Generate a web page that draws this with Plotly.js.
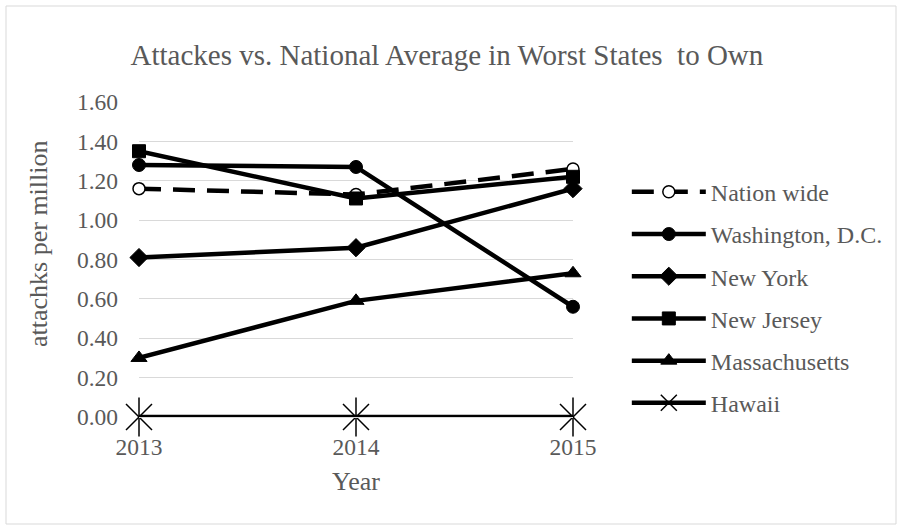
<!DOCTYPE html>
<html>
<head>
<meta charset="utf-8">
<script src="https://cdn.plot.ly/plotly-3.0.1.min.js"></script>
<style>
html,body{margin:0;padding:0;background:#fff;}
#chart{width:901px;height:529px;}
</style>
</head>
<body>
<div id="chart"></div>
<script>
const years = [2013, 2014, 2015];
const seriesNames = ["Nation wide", "Washington, D.C.", "New York", "New Jersey", "Massachusetts", "Hawaii"];
const nationWide = [1.16, 1.13, 1.26];
const washingtonDC = [1.28, 1.27, 0.56];
const newYork = [0.81, 0.86, 1.16];
const newJersey = [1.35, 1.11, 1.22];
const massachusetts = [0.30, 0.59, 0.73];
const hawaii = [0, 0, 0];
const yTicks = [0, 0.2, 0.4, 0.6, 0.8, 1.0, 1.2, 1.4, 1.6];

const serif = "Liberation Serif, Times New Roman, serif";
const grey = "#595959";
const LW = 4.5;

function tr(name, y, symbol, size, extra) {
  return Object.assign({
    x: years, y: y, name: name, type: "scatter", mode: "lines+markers",
    line: {color: "#000", width: LW},
    marker: {symbol: symbol, size: size, color: "#000", line: {color: "#000", width: 1}},
    cliponaxis: false, legendgroup: name
  }, extra || {});
}

const data = [
  tr(seriesNames[0], nationWide, "circle", 12, {
    line: {color: "#000", width: LW, dash: "22px,12px"},
    marker: {symbol: "circle", size: 12, color: "#fff", line: {color: "#000", width: 1.5}}
  }),
  tr(seriesNames[1], washingtonDC, "circle", 13),
  tr(seriesNames[2], newYork, "diamond", 14),
  tr(seriesNames[3], newJersey, "square", 13),
  tr(seriesNames[4], massachusetts, "triangle-up", 14),
  tr(seriesNames[5], hawaii, "x-thin-open", 26, {
    marker: {symbol: "x-thin-open", size: 26, color: "#000", line: {color: "#000", width: 1.5}}
  }),
  {
    x: years, y: hawaii, type: "scatter", mode: "markers", showlegend: false,
    hoverinfo: "skip", cliponaxis: false, legendgroup: seriesNames[5],
    marker: {symbol: "line-ns-open", size: 28, color: "#000", line: {color: "#000", width: 1.5}}
  }
];

const layout = {
  width: 901, height: 529,
  margin: {l: 139, r: 328, t: 102, b: 112},
  paper_bgcolor: "#fff", plot_bgcolor: "#fff",
  font: {family: serif, color: grey, size: 23.5},
  title: {
    text: "Attackes vs. National Average in Worst States  to Own",
    font: {family: serif, size: 29, color: grey},
    x: 0.496, xanchor: "center", y: 0.896, yanchor: "middle"
  },
  xaxis: {
    range: [2013, 2015], tickvals: years, ticktext: years.map(String),
    showgrid: false, zeroline: false, showline: true, linecolor: "#d9d9d9", linewidth: 1,
    ticks: "", ticklabelstandoff: 9,
    tickfont: {family: serif, size: 23.5, color: grey},
    title: {text: "Year", font: {family: serif, size: 26, color: grey}, standoff: 12}
  },
  yaxis: {
    range: [0, 1.6], tickvals: yTicks, tickformat: ".2f",
    showgrid: true, gridcolor: "#d9d9d9", gridwidth: 1, zeroline: false, showline: false,
    ticks: "", ticklabelstandoff: 20,
    tickfont: {family: serif, size: 23.5, color: grey}
  },
  annotations: [{
    text: "attachks per million", textangle: -90, showarrow: false,
    xref: "paper", yref: "paper", x: (39 - 139) / 434, y: (417 - 244) / 315,
    xanchor: "center", yanchor: "middle",
    font: {family: serif, size: 26, color: grey}
  }],
  legend: {
    x: 1.124, xanchor: "left", y: 0.785, yanchor: "top",
    font: {family: serif, size: 24, color: grey},
    itemwidth: 74, traceorder: "grouped", tracegroupgap: 8,
    bgcolor: "rgba(0,0,0,0)"
  },
  shapes: [{
    type: "rect", xref: "paper", yref: "paper",
    x0: (6 - 139) / 434, x1: (896 - 139) / 434,
    y0: (417 - 524) / 315, y1: (417 - 6) / 315,
    line: {color: "#d9d9d9", width: 1}, fillcolor: "rgba(0,0,0,0)", layer: "below"
  }],
  showlegend: true
};

Plotly.newPlot("chart", data, layout, {displayModeBar: false, staticPlot: true});
</script>
</body>
</html>
